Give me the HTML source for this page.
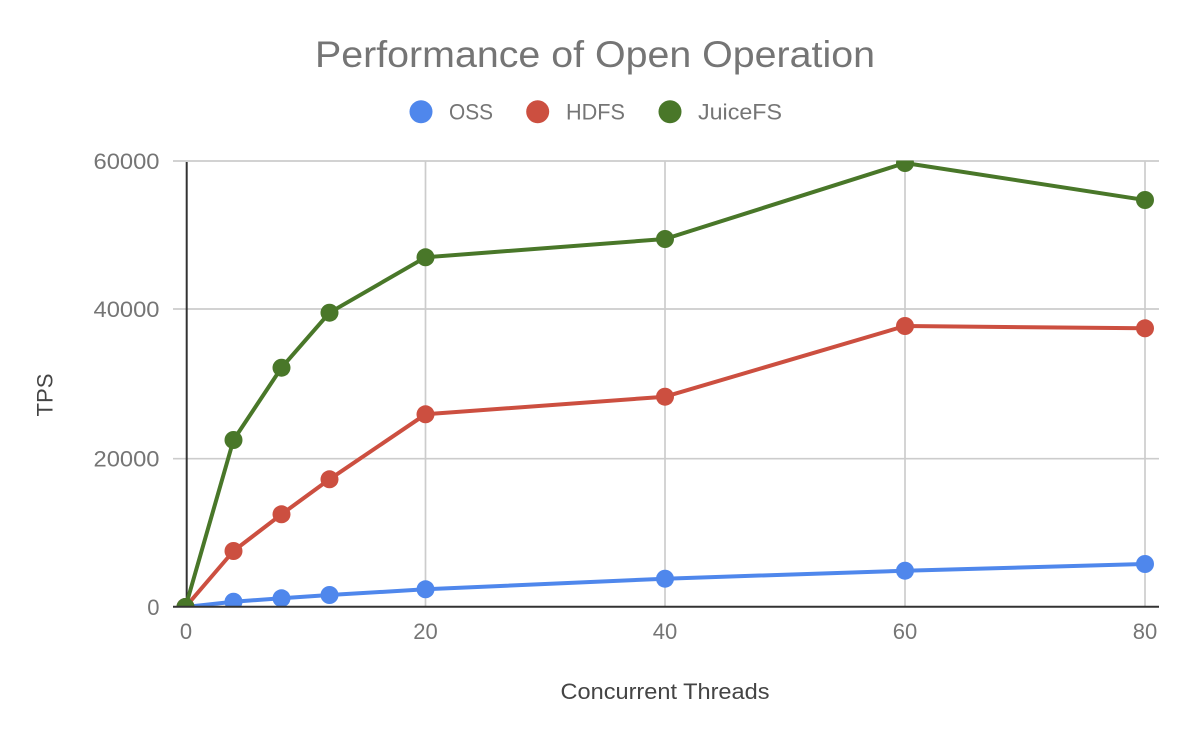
<!DOCTYPE html>
<html>
<head>
<meta charset="utf-8">
<style>
  html, body { margin:0; padding:0; background:#ffffff; }
  svg { display:block; }
  text { font-family: "Liberation Sans", "DejaVu Sans", sans-serif; }
</style>
</head>
<body>
<svg width="1194" height="738" viewBox="0 0 1194 738" xmlns="http://www.w3.org/2000/svg">
  <defs>
    <clipPath id="plot">
      <rect x="160" y="160.5" width="1000" height="445.8"/>
    </clipPath>
  </defs>
  <rect x="0" y="0" width="1194" height="738" fill="#ffffff"/>

  <!-- Title -->
  <text x="595" y="67" font-size="37" fill="#757575" text-anchor="middle" textLength="560" lengthAdjust="spacingAndGlyphs">Performance of Open Operation</text>

  <!-- Legend -->
  <circle cx="421" cy="111.7" r="11.5" fill="#4f87ec"/>
  <text x="449" y="119.5" font-size="22" fill="#757575" textLength="44" lengthAdjust="spacingAndGlyphs">OSS</text>
  <circle cx="537.7" cy="111.7" r="11.5" fill="#cc4f40"/>
  <text x="566" y="119.5" font-size="22" fill="#757575" textLength="59" lengthAdjust="spacingAndGlyphs">HDFS</text>
  <circle cx="670" cy="111.7" r="11.5" fill="#497729"/>
  <text x="698" y="119.5" font-size="22" fill="#757575" textLength="84" lengthAdjust="spacingAndGlyphs">JuiceFS</text>

  <!-- Horizontal gridlines -->
  <g stroke="#cccccc" stroke-width="1.7">
    <line x1="173" y1="161" x2="1159" y2="161"/>
    <line x1="173" y1="309" x2="1159" y2="309"/>
    <line x1="173" y1="458.7" x2="1159" y2="458.7"/>
    <!-- Vertical gridlines -->
    <line x1="425.5" y1="161" x2="425.5" y2="607"/>
    <line x1="665" y1="161" x2="665" y2="607"/>
    <line x1="905" y1="161" x2="905" y2="607"/>
    <line x1="1145" y1="161" x2="1145" y2="607"/>
  </g>

  <!-- Axes -->
  <line x1="186.7" y1="162" x2="186.7" y2="607" stroke="#333333" stroke-width="2"/>

  <!-- Series -->
  <g clip-path="url(#plot)">
    <!-- OSS -->
    <polyline fill="none" stroke="#4f87ec" stroke-width="4" stroke-linejoin="round"
      points="185.5,607 233.5,601.7 281.5,598.3 329.5,595 425.5,589.3 665,578.7 905,570.7 1145,564"/>
    <g fill="#4f87ec">
      <circle cx="185.5" cy="607" r="9"/>
      <circle cx="233.5" cy="601.7" r="9"/>
      <circle cx="281.5" cy="598.3" r="9"/>
      <circle cx="329.5" cy="595" r="9"/>
      <circle cx="425.5" cy="589.3" r="9"/>
      <circle cx="665" cy="578.7" r="9"/>
      <circle cx="905" cy="570.7" r="9"/>
      <circle cx="1145" cy="564" r="9"/>
    </g>
    <!-- HDFS -->
    <polyline fill="none" stroke="#cc4f40" stroke-width="4" stroke-linejoin="round"
      points="185.5,607 233.5,551 281.5,514.3 329.5,479.3 425.5,414.3 665,396.7 905,326 1145,328.3"/>
    <g fill="#cc4f40">
      <circle cx="185.5" cy="607" r="9"/>
      <circle cx="233.5" cy="551" r="9"/>
      <circle cx="281.5" cy="514.3" r="9"/>
      <circle cx="329.5" cy="479.3" r="9"/>
      <circle cx="425.5" cy="414.3" r="9"/>
      <circle cx="665" cy="396.7" r="9"/>
      <circle cx="905" cy="326" r="9"/>
      <circle cx="1145" cy="328.3" r="9"/>
    </g>
    <!-- JuiceFS -->
    <polyline fill="none" stroke="#497729" stroke-width="4" stroke-linejoin="round"
      points="185.5,607 233.5,440 281.5,367.7 329.5,312.7 425.5,257.3 665,239 905,163 1145,200"/>
    <g fill="#497729">
      <circle cx="185.5" cy="607" r="9"/>
      <circle cx="233.5" cy="440" r="9"/>
      <circle cx="281.5" cy="367.7" r="9"/>
      <circle cx="329.5" cy="312.7" r="9"/>
      <circle cx="425.5" cy="257.3" r="9"/>
      <circle cx="665" cy="239" r="9"/>
      <circle cx="905" cy="163" r="9"/>
      <circle cx="1145" cy="200" r="9"/>
    </g>
  </g>

  <!-- Baseline -->
  <line x1="173" y1="606.7" x2="1159" y2="606.7" stroke="#333333" stroke-width="2"/>

  <!-- Y tick labels -->
  <g font-size="22" fill="#757575" text-anchor="end">
    <text x="159.5" y="169" textLength="66" lengthAdjust="spacingAndGlyphs">60000</text>
    <text x="159.5" y="317" textLength="66" lengthAdjust="spacingAndGlyphs">40000</text>
    <text x="159.5" y="466.7" textLength="66" lengthAdjust="spacingAndGlyphs">20000</text>
    <text x="159.5" y="615">0</text>
  </g>

  <!-- X tick labels -->
  <g font-size="22" fill="#757575" text-anchor="middle">
    <text x="186" y="639">0</text>
    <text x="425.5" y="639">20</text>
    <text x="665" y="639">40</text>
    <text x="905" y="639">60</text>
    <text x="1145" y="639">80</text>
  </g>

  <!-- Axis titles -->
  <text x="665" y="699" font-size="22" fill="#444444" text-anchor="middle" textLength="209" lengthAdjust="spacingAndGlyphs">Concurrent Threads</text>
  <text transform="translate(52.5,395) rotate(-90)" font-size="22" fill="#444444" text-anchor="middle" textLength="43" lengthAdjust="spacingAndGlyphs">TPS</text>
</svg>
</body>
</html>
